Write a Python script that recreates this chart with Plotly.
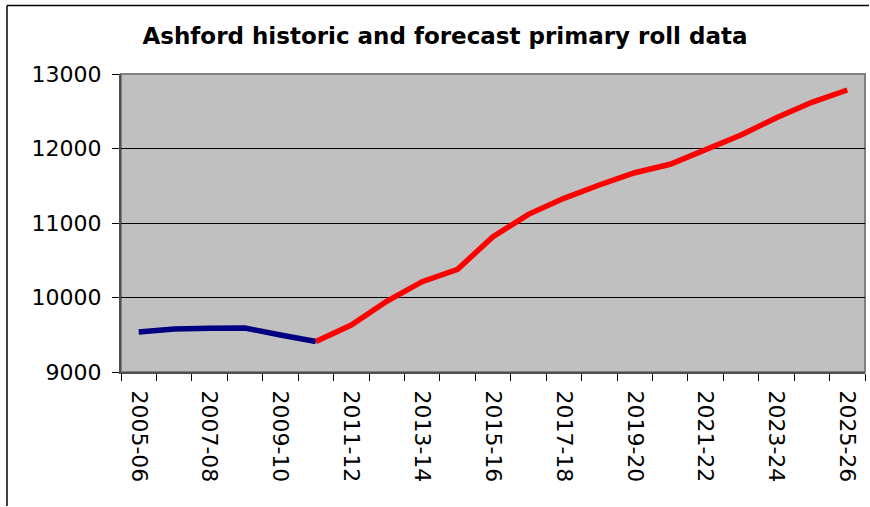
import plotly.graph_objects as go

# School years on the category axis
years = [f"{y}-{(y + 1) % 100:02d}" for y in range(2005, 2026)]

# Historic primary roll (2005-06 to 2010-11)
historic_years = years[:6]
historic_roll = [9537, 9577, 9586, 9590, 9497, 9410]

# Forecast primary roll (2010-11 to 2025-26)
forecast_years = years[5:]
forecast_roll = [9410, 9630, 9950, 10212, 10379, 10816, 11116, 11331,
                 11510, 11675, 11788, 11980, 12181, 12414, 12620, 12785]

# Only every other year is labelled
tick_text = [y if i % 2 == 0 else "" for i, y in enumerate(years)]

y_ticks = [9000, 10000, 11000, 12000, 13000]
y_tick_text = [str(v) for v in y_ticks]

font_family = "DejaVu Sans, Verdana, sans-serif"

fig = go.Figure()
fig.add_trace(go.Scatter(
    x=historic_years, y=historic_roll, mode="lines",
    line=dict(color="#000080", width=5.5), name="Historic",
))
fig.add_trace(go.Scatter(
    x=forecast_years, y=forecast_roll, mode="lines",
    line=dict(color="#FF0000", width=5.5), name="Forecast",
))

# Outer chart frame: top and left edges
px_x = lambda p: (p - 121) / 744
px_y = lambda p: (372 - p) / 298
fig.add_shape(type="line", xref="paper", yref="paper",
              x0=px_x(7), x1=px_x(869), y0=px_y(5.5), y1=px_y(5.5),
              line=dict(color="black", width=1.5))
fig.add_shape(type="line", xref="paper", yref="paper",
              x0=px_x(7), x1=px_x(7), y0=px_y(5.5), y1=px_y(506),
              line=dict(color="black", width=1.5))

# Grey frame around the plot area
fig.add_shape(
    type="rect", xref="paper", yref="paper", x0=0, x1=1, y0=0, y1=1,
    line=dict(color="#808080", width=2), layer="below",
)

fig.update_layout(
    width=870, height=507,
    margin=dict(l=121, r=5, t=74, b=135),
    paper_bgcolor="white",
    plot_bgcolor="#C0C0C0",
    showlegend=False,
    title=dict(
        text="<b>Ashford historic and forecast primary roll data</b>",
        x=445 / 870, xanchor="center", xref="container",
        y=1 - 36 / 507, yanchor="middle", yref="container",
        font=dict(family=font_family, size=23, color="black"),
    ),
    xaxis=dict(
        type="category", categoryorder="array", categoryarray=years,
        tickmode="array", tickvals=years, ticktext=tick_text,
        tickson="boundaries", ticks="outside", ticklen=7,
        tickcolor="black", tickwidth=1,
        tickangle=90, ticklabelstandoff=12,
        tickfont=dict(family=font_family, size=22, color="black"),
        showgrid=False, showline=True, linecolor="#505050", linewidth=2,
        range=[-0.5, 20.5],
    ),
    yaxis=dict(
        range=[9000, 13000], tickmode="array",
        tickvals=y_ticks, ticktext=y_tick_text,
        ticks="outside", ticklen=7, tickcolor="black", tickwidth=1,
        ticklabelstandoff=6,
        tickfont=dict(family=font_family, size=22, color="black"),
        showgrid=True, gridcolor="black", gridwidth=1,
        showline=True, linecolor="#505050", linewidth=2,
        zeroline=False,
    ),
)

fig.write_html("out.html")
